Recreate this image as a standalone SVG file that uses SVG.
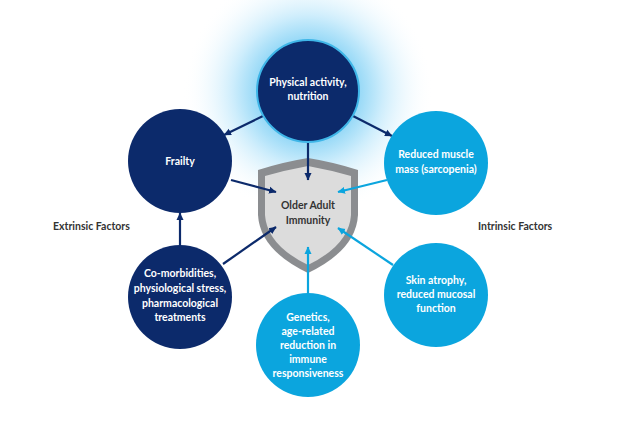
<svg xmlns="http://www.w3.org/2000/svg" width="624" height="425" viewBox="0 0 624 425">
<defs>
<radialGradient id="glow" cx="308" cy="91" r="125" gradientUnits="userSpaceOnUse">
<stop offset="0.38" stop-color="#8fd6f6"/>
<stop offset="0.6" stop-color="#cdedfc"/>
<stop offset="1" stop-color="#ffffff" stop-opacity="0"/>
</radialGradient>
<marker id="aN" markerWidth="8" markerHeight="8" refX="7" refY="4" orient="auto" markerUnits="userSpaceOnUse">
<path d="M0,0.5 L7.5,4 L0,7.5 Z" fill="#0c2a6b"/>
</marker>
<marker id="aL" markerWidth="8" markerHeight="8" refX="7" refY="4" orient="auto" markerUnits="userSpaceOnUse">
<path d="M0,0.5 L7.5,4 L0,7.5 Z" fill="#0ba5de"/>
</marker>
</defs>
<style>
.navy{fill:#0c2a6b}
.light{fill:#0ba5de}
.t{font-family:Lato,"Open Sans",sans-serif;font-weight:bold;font-size:10.5px;fill:#ffffff;text-anchor:middle}
.lab{font-family:Lato,"Open Sans",sans-serif;font-weight:bold;font-size:10.5px;fill:#333333;text-anchor:start}
.cn{stroke:#0c2a6b;stroke-width:2.2;fill:none;marker-end:url(#aN)}
.cl{stroke:#0ba5de;stroke-width:2.2;fill:none;marker-end:url(#aL)}
</style>
<rect width="624" height="425" fill="#ffffff"/>
<circle cx="308" cy="91" r="125" fill="url(#glow)"/>
<g id="shield">
<path d="M308,158 Q333,162 358,170 L358,215 Q356,250 308,273 Q260,250 258,215 L258,170 Q283,162 308,158 Z" fill="#8b8d90"/>
<path d="M308,166 Q330,170 351,176 L351,215 Q349,245 308,265 Q267,245 265,215 L265,176 Q286,170 308,166 Z" fill="#dcdcdc"/>
<text class="t" x="308" y="209" style="fill:#333333">Older Adult</text>
<text class="t" x="308" y="224" style="fill:#333333">Immunity</text>
</g>
<g id="connectors">
<line class="cn" x1="263" y1="116" x2="224" y2="135"/>
<line class="cn" x1="353" y1="116" x2="392" y2="136"/>
<line class="cn" x1="308" y1="142" x2="308" y2="180"/>
<line class="cn" x1="231" y1="180" x2="276" y2="192"/>
<line class="cn" x1="223" y1="264" x2="276" y2="227"/>
<line class="cn" x1="180" y1="246" x2="180" y2="213"/>
<line class="cl" x1="387" y1="180" x2="338" y2="192"/>
<line class="cl" x1="393" y1="265" x2="338" y2="228"/>
<line class="cl" x1="308" y1="294" x2="308" y2="247"/>
</g>
<g id="physical">
<circle cx="308" cy="91" r="51" class="navy" stroke="#3fb6e8" stroke-width="2"/>
<text class="t" x="308" y="86">Physical activity,</text>
<text class="t" x="308" y="100">nutrition</text>
</g>
<g id="frailty">
<circle cx="180" cy="161" r="52" class="navy"/>
<text class="t" x="180" y="165">Frailty</text>
</g>
<g id="comorbidities">
<circle cx="180" cy="297" r="52" class="navy"/>
<text class="t" x="180" y="277">Co-morbidities,</text>
<text class="t" x="180" y="292">physiological stress,</text>
<text class="t" x="180" y="307">pharmacological</text>
<text class="t" x="180" y="321">treatments</text>
</g>
<g id="sarcopenia">
<circle cx="436" cy="163" r="52" class="light"/>
<text class="t" x="436" y="158">Reduced muscle</text>
<text class="t" x="436" y="173">mass (sarcopenia)</text>
</g>
<g id="skin">
<circle cx="436" cy="295" r="52" class="light"/>
<text class="t" x="436" y="284">Skin atrophy,</text>
<text class="t" x="436" y="298">reduced mucosal</text>
<text class="t" x="436" y="312">function</text>
</g>
<g id="genetics">
<circle cx="308" cy="345" r="52" class="light"/>
<text class="t" x="308" y="321">Genetics,</text>
<text class="t" x="308" y="335">age-related</text>
<text class="t" x="308" y="349">reduction in</text>
<text class="t" x="308" y="363">immune</text>
<text class="t" x="308" y="377">responsiveness</text>
</g>
<g id="labels">
<text class="lab" x="53" y="230">Extrinsic Factors</text>
<text class="lab" x="478" y="230">Intrinsic Factors</text>
</g>
</svg>
